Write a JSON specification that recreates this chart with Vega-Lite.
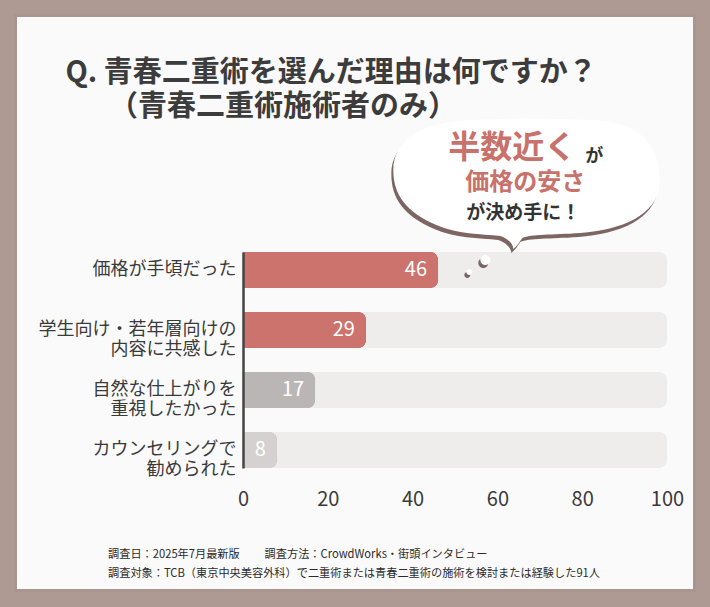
{
  "$schema": "https://vega.github.io/schema/vega-lite/v6.json",
  "width": 679,
  "height": 575,
  "autosize": {"type": "none"},
  "padding": {"left": 15.5, "top": 15.5, "right": 15.5, "bottom": 16.5},
  "background": "#ae9a93",
  "config": {
    "font": "Noto Sans CJK JP",
    "view": {"fill": "#fbfafa", "stroke": "#a8958f", "strokeWidth": 3}
  },
  "title": {
    "text": ["Q. 青春二重術を選んだ理由は何ですか？", "\u200b\u3000\u3000（青春二重術施術者のみ）"],
    "anchor": "start",
    "frame": "group",
    "align": "left",
    "baseline": "top",
    "fontSize": 29,
    "fontWeight": "bold",
    "color": "#3c3c3c",
    "lineHeight": 34,
    "offset": 0,
    "dx": 50,
    "dy": 106
  },
  "data": {
    "values": [
      {"reason": "価格が手頃だった", "value": 46},
      {"reason": "学生向け・若年層向けの|内容に共感した", "value": 29},
      {"reason": "自然な仕上がりを|重視したかった", "value": 17},
      {"reason": "カウンセリングで|勧められた", "value": 8}
    ]
  },
  "encoding": {
    "y": {
      "field": "reason",
      "type": "nominal",
      "sort": null,
      "scale": {"range": [236.5, 452.5], "paddingInner": 0.4, "paddingOuter": 0},
      "axis": {
        "title": null,
        "orient": "left",
        "offset": -227.5,
        "domainColor": "#444444",
        "domainWidth": 2.5,
        "ticks": false,
        "grid": false,
        "labelFontSize": 18,
        "labelColor": "#3a3a3a",
        "labelPadding": 7,
        "labelLineHeight": 20,
        "labelLimit": 300,
        "labelExpr": "split(datum.value, '|')",
        "zindex": 1
      }
    }
  },
  "layer": [
    {
      "mark": {"type": "bar", "color": "#efecec", "cornerRadiusEnd": 8},
      "encoding": {
        "x": {
          "datum": 100,
          "type": "quantitative",
          "scale": {"domain": [0, 100], "range": [227.5, 651.5], "nice": false, "zero": true},
          "axis": {
            "orient": "bottom",
            "offset": -122.5,
            "values": [0, 20, 40, 60, 80, 100],
            "domain": false,
            "ticks": false,
            "grid": false,
            "labelFontSize": 20,
            "labelColor": "#3a3a3a",
            "labelPadding": 21,
            "labelFlush": false,
            "title": ["調査日：2025年7月最新版　　 調査方法：CrowdWorks・街頭インタビュー", "調査対象：TCB（東京中央美容外科）で二重術または青春二重術の施術を検討または経験した91人"],
            "titleAnchor": "start",
            "titleAlign": "left",
            "titleBaseline": "top",
            "titleX": 92,
            "titleY": 80,
            "titleFontSize": 11.2,
            "titleFontWeight": "normal",
            "titleColor": "#2a2a2a",
            "titleLineHeight": 19
          }
        }
      }
    },
    {
      "mark": {"type": "bar", "cornerRadiusEnd": 8, "xOffset": 3, "x2Offset": 3},
      "encoding": {
        "x": {"field": "value", "type": "quantitative"},
        "color": {
          "field": "reason",
          "type": "nominal",
          "legend": null,
          "scale": {
            "domain": ["価格が手頃だった", "学生向け・若年層向けの|内容に共感した", "自然な仕上がりを|重視したかった", "カウンセリングで|勧められた"],
            "range": ["#8c625d", "#8c625d", "#a29e9e", "#b5b1b1"]
          }
        }
      }
    },
    {
      "mark": {"type": "bar", "cornerRadiusEnd": 8},
      "encoding": {
        "x": {"field": "value", "type": "quantitative"},
        "color": {
          "field": "reason",
          "type": "nominal",
          "legend": null,
          "scale": {
            "domain": ["価格が手頃だった", "学生向け・若年層向けの|内容に共感した", "自然な仕上がりを|重視したかった", "カウンセリングで|勧められた"],
            "range": ["#cc736d", "#cc736d", "#bab6b6", "#d5d1d1"]
          }
        }
      }
    },
    {
      "mark": {"type": "text", "align": "right", "baseline": "middle", "dx": -11, "color": "#ffffff", "fontSize": 20},
      "encoding": {
        "x": {"field": "value", "type": "quantitative"},
        "text": {"field": "value", "type": "quantitative"}
      }
    },
    {
      "data": {"values": [{"reason": "価格が手頃だった"}]},
      "mark": {
        "type": "point",
        "filled": true,
        "size": 4,
        "opacity": 1,
        "color": "#7d6662",
        "shape": "M -140 -96 C -140 -126 -112 -144 -62 -146 C -22 -148 18 -148 58 -146 C 108 -144 128 -121 126 -81 C 124 -51 88 -36 47 -33 C 18 -31 -2 -32 -11 -28 C -14 -24 -16 -20 -20 -17 C -20 -22 -26 -28 -33 -30 C -52 -32 -77 -32 -97 -41 C -127 -54 -140 -71 -140 -96 Z M -67 5 A 3 3 0 1 0 -61 5 A 3 3 0 1 0 -67 5 Z M -53 -7 A 5 5 0 1 0 -43 -7 A 5 5 0 1 0 -53 -7 Z"
      },
      "encoding": {
        "x": {"datum": 68, "type": "quantitative"}
      }
    },
    {
      "data": {"values": [{"reason": "価格が手頃だった"}]},
      "mark": {
        "type": "point",
        "filled": true,
        "size": 4,
        "opacity": 1,
        "color": "#ffffff",
        "shape": "M -138 -100 C -138 -130 -110 -148 -60 -150 C -20 -152 20 -152 60 -150 C 110 -148 130 -125 128 -85 C 126 -55 90 -40 49 -37 C 20 -35 0 -36 -9 -32 C -12 -28 -14 -24 -18 -21 C -18 -26 -24 -32 -31 -34 C -50 -36 -75 -36 -95 -45 C -125 -58 -138 -75 -138 -100 Z M -65 2 A 3 3 0 1 0 -59 2 A 3 3 0 1 0 -65 2 Z M -51 -10 A 5 5 0 1 0 -41 -10 A 5 5 0 1 0 -51 -10 Z"
      },
      "encoding": {
        "x": {"datum": 68, "type": "quantitative"}
      }
    },
    {
      "data": {"values": [{"reason": "価格が手頃だった"}]},
      "mark": {"type": "text", "text": "半数近く", "fontSize": 32, "fontWeight": "bold", "color": "#c9716b", "align": "center", "baseline": "middle", "dx": -19, "dy": -122},
      "encoding": {
        "x": {"datum": 68, "type": "quantitative"}
      }
    },
    {
      "data": {"values": [{"reason": "価格が手頃だった"}]},
      "mark": {"type": "text", "text": "が", "fontSize": 18, "fontWeight": "bold", "color": "#333333", "align": "center", "baseline": "middle", "dx": 63, "dy": -113},
      "encoding": {
        "x": {"datum": 68, "type": "quantitative"}
      }
    },
    {
      "data": {"values": [{"reason": "価格が手頃だった"}]},
      "mark": {"type": "text", "text": "価格の安さ", "fontSize": 24, "fontWeight": "bold", "color": "#c9716b", "align": "center", "baseline": "middle", "dx": -6, "dy": -87},
      "encoding": {
        "x": {"datum": 68, "type": "quantitative"}
      }
    },
    {
      "data": {"values": [{"reason": "価格が手頃だった"}]},
      "mark": {"type": "text", "text": "が決め手に！", "fontSize": 19, "fontWeight": "bold", "color": "#333333", "align": "center", "baseline": "middle", "dx": -8, "dy": -57},
      "encoding": {
        "x": {"datum": 68, "type": "quantitative"}
      }
    }
  ],
  "resolve": {"scale": {"color": "independent"}}
}
